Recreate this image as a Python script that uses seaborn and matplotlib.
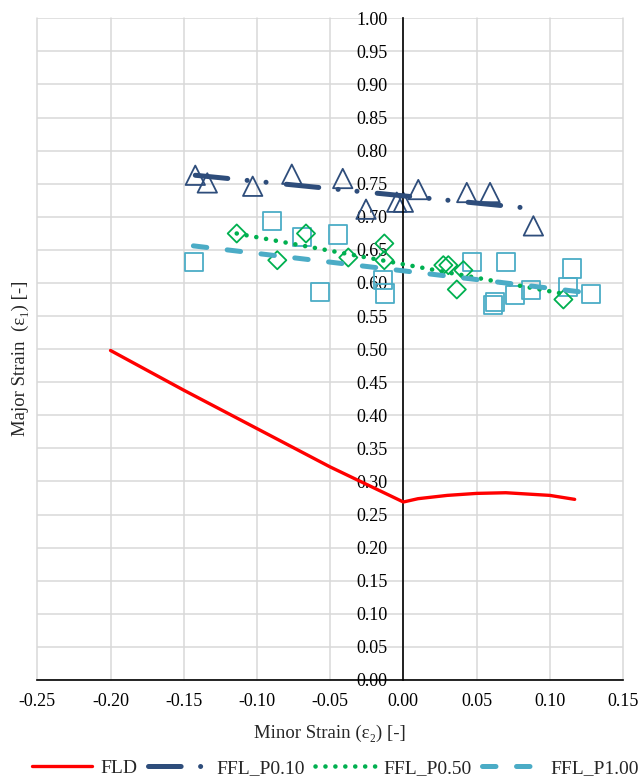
import numpy as np
import pandas as pd
import matplotlib
matplotlib.use("Agg")
import matplotlib.pyplot as plt
import seaborn as sns

# ---------------- data ----------------
fld_x = [-0.20, -0.15, -0.10, -0.05, 0.00, 0.01, 0.03, 0.05, 0.07, 0.10, 0.117]
fld_y = [0.498, 0.438, 0.380, 0.322, 0.269, 0.274, 0.279, 0.282, 0.283, 0.279, 0.273]

p010_x = [-0.1421, 0.0877]
p010_y = [0.7628, 0.7125]
p050_x = [-0.1138, 0.1082]
p050_y = [0.6748, 0.5841]
p100_x = [-0.1434, 0.1264]
p100_y = [0.6561, 0.5851]

tri_x = [-0.1421, -0.1339, -0.1029, -0.0762, -0.0414, -0.0255, -0.0045, 0.0000, 0.0102, 0.0433, 0.0592, 0.0888]
tri_y = [0.7628, 0.7512, 0.7462, 0.7644, 0.7579, 0.7115, 0.7221, 0.7221, 0.7412, 0.7367, 0.7367, 0.6863]

dia_x = [-0.1138, -0.0861, -0.0665, -0.0376, -0.0130, -0.0130, 0.0273, 0.0307, 0.0410, 0.0365, 0.1093]
dia_y = [0.6748, 0.6344, 0.6748, 0.6385, 0.6597, 0.6344, 0.6269, 0.6269, 0.6193, 0.5902, 0.5751]

sq_x = [-0.1430, -0.0899, -0.0694, -0.0444, -0.0569, -0.0137, -0.0125, 0.0467, 0.0701, 0.0626, 0.0615, 0.0763, 0.0872, 0.1127, 0.1150, 0.1280]
sq_y = [0.6319, 0.6938, 0.6696, 0.6733, 0.5866, 0.6042, 0.5841, 0.6319, 0.6319, 0.5715, 0.5665, 0.5816, 0.5891, 0.5941, 0.6219, 0.5831]

series_labels = ["FLD", "FFL_P0.10", "FFL_P0.50", "FFL_P1.00"]
x_ticks = [-0.25, -0.20, -0.15, -0.10, -0.05, 0.00, 0.05, 0.10, 0.15]
y_ticks = [round(0.05 * i, 2) for i in range(21)]

# ---------------- style ----------------
sns.set_theme(style="white")
plt.rcParams["font.family"] = ["Liberation Serif", "DejaVu Serif"]
plt.rcParams["lines.scale_dashes"] = False

RED = "#FF0000"
DARK = "#2E4D7B"
GREEN = "#00B050"
AQUA = "#4BACC6"
GRID = "#D9D9D9"

fig = plt.figure(figsize=(6.44, 7.79), dpi=100)
ax = fig.add_axes([37.3 / 644, 1 - 680 / 779, (623 - 37.3) / 644, (680 - 18.3) / 779])

# markers
sns.scatterplot(x=sq_x, y=sq_y, marker="s", s=170, color=AQUA, facecolor="none",
                edgecolor=AQUA, linewidth=1.3, ax=ax, legend=False, zorder=2)
sns.scatterplot(x=dia_x, y=dia_y, marker="D", s=85, color=GREEN, facecolor="none",
                edgecolor=GREEN, linewidth=1.3, ax=ax, legend=False, zorder=2)
sns.scatterplot(x=tri_x, y=tri_y, marker="^", s=195, color=DARK, facecolor="none",
                edgecolor=DARK, linewidth=1.3, ax=ax, legend=False, zorder=2)

# lines
sns.lineplot(x=fld_x, y=fld_y, color=RED, lw=2.4, sort=False, estimator=None,
             label=series_labels[0], ax=ax, zorder=3)
sns.lineplot(x=p010_x, y=p010_y, color=DARK, lw=3.6, sort=False, estimator=None,
             linestyle=(0, (23.5, 14.0, 0.05, 13.6, 0.05, 14.6)), dash_capstyle="round",
             label=series_labels[1], ax=ax, zorder=3)
sns.lineplot(x=p050_x, y=p050_y, color=GREEN, lw=3.3, sort=False, estimator=None,
             linestyle=(0, (0.05, 7.1)), dash_capstyle="round",
             label=series_labels[2], ax=ax, zorder=3)
sns.lineplot(x=p100_x, y=p100_y, color=AQUA, lw=3.6, sort=False, estimator=None,
             linestyle=(0, (9.7, 14.8)), dash_capstyle="round",
             label=series_labels[3], ax=ax, zorder=3)

if ax.get_legend() is not None:
    ax.get_legend().remove()

# axes
ax.set_xlim(-0.25, 0.15)
ax.set_ylim(0, 1.0)
ax.set_xticks(x_ticks)
ax.set_yticks(y_ticks)
ax.set_xticklabels([f"{v:.2f}" for v in x_ticks])
ax.set_yticklabels([f"{v:.2f}" for v in y_ticks])
ax.grid(True, color=GRID, lw=1.1)
ax.set_axisbelow(True)
for gl in ax.get_xgridlines() + ax.get_ygridlines():
    gl.set_clip_on(False)

ax.spines["left"].set_position(("data", 0))
ax.spines["left"].set_color("black")
ax.spines["left"].set_linewidth(1.2)
ax.spines["bottom"].set_color("black")
ax.spines["bottom"].set_linewidth(1.2)
ax.spines["top"].set_visible(False)
ax.spines["right"].set_visible(False)
ax.spines["left"].set_zorder(2.5)

ax.tick_params(axis="y", length=0, pad=11.5, labelsize=13, colors="black")
ax.tick_params(axis="x", length=0, pad=9, labelsize=13, colors="black")

ax.set_xlabel("Minor Strain (ε₂) [-]", fontsize=13.5, va="center")
ax.xaxis.set_label_coords(0.5, -(733 - 680) / (680 - 18.3))
ax.set_ylabel("Major Strain  (ε₁) [-]", fontsize=13.5, va="center")
ax.yaxis.set_label_coords(-(37.3 - 20) / (623 - 37.3), 1 - (358.5 - 18.3) / (680 - 18.3))

handles, labels = ax.get_legend_handles_labels()
fig.legend(handles, labels, loc="center", bbox_to_anchor=(0.521, 11 / 779), ncol=4,
           frameon=False, handlelength=3.1, handletextpad=0.45, columnspacing=0.5,
           fontsize=14)

fig.savefig("out.png", dpi=100)
